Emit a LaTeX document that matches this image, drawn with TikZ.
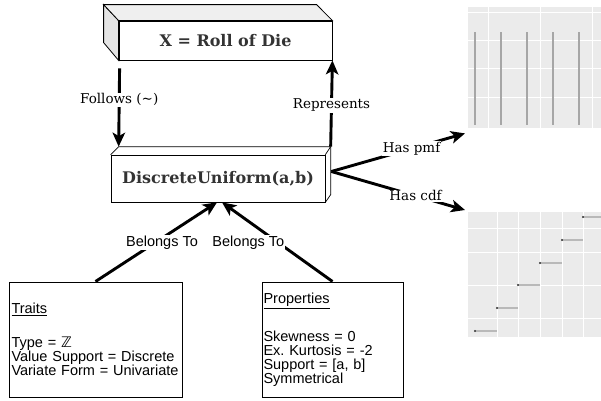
\documentclass[tikz,border=0pt]{standalone}
\usepackage{fontspec}
\usetikzlibrary{arrows.meta}
\setmainfont{DejaVu Serif}
\setsansfont{Liberation Sans}
\newfontfamily\dsfont{DejaVu Sans}
\definecolor{boxtext}{HTML}{333333}
\definecolor{facegray}{HTML}{E4E4E4}
\definecolor{plotbg}{HTML}{EBEBEB}

\begin{document}
\begin{tikzpicture}[x=1pt, y=-1pt,
        arr/.style={line width=2.9pt, -{Stealth[length=14pt, width=12.5pt, inset=3.5pt]}},
        cubetext/.style={font=\fontsize{16}{18}\selectfont\bfseries, text=boxtext},
        edgelbl/.style={fill=white, inner sep=1pt, font=\fontsize{13.5}{15}\selectfont},
        sanslbl/.style={fill=white, inner sep=1pt, font=\fontsize{14.5}{16}\selectfont\sffamily},
        infobox/.style={draw, line width=1pt, minimum height=115pt, align=left, font=\fontsize{14.5}{14}\selectfont\sffamily}]
        \useasboundingbox (0,0) rectangle (601,400);
        \node[draw, line width=0.8pt, fill=white, minimum width=213pt, minimum height=39pt, cubetext] (roll) at (225.5,40.5) {X = Roll of Die};
        \draw[line width=0.8pt, fill=facegray] (roll.north west) -- ++(-15,-16) -- ++(0,38) -- (roll.south west) -- cycle;
        \draw[line width=0.8pt, fill=facegray!60] (roll.north west) -- ++(-15,-16) -- ++(213,0) -- (roll.north east) -- cycle;
        \node[draw, line width=0.7pt, minimum width=214pt, minimum height=47pt, cubetext] (unif) at (218,178.5) {DiscreteUniform(a,b)};
        \draw[line width=0.7pt] (unif.north west) -- ++(8,-8) coordinate (unifTL) -- ++(212,0) coordinate (unifTR) -- (unif.north east);
        \draw[line width=0.7pt] (unifTR) -- ++(0,48) -- (unif.south east);
        \coordinate (unifR) at ([shift={(6,-7)}]unif.east);
        \node[fill=plotbg, minimum width=133pt, minimum height=121pt, inner sep=0pt, anchor=north west] (pmf) at (468,7) {};
        \draw[white, line width=0.4pt] (468,12) -- (601,12);
        \draw[white, line width=0.4pt] (468,40) -- (601,40);
        \draw[white, line width=0.4pt] (468,68) -- (601,68);
        \draw[white, line width=0.4pt] (468,97) -- (601,97);
        \draw[white, line width=0.4pt] (488,7) -- (488,128);
        \draw[white, line width=0.4pt] (540,7) -- (540,128);
        \draw[white, line width=0.4pt] (592,7) -- (592,128);
        \draw[gray!70, line width=1.3pt] (475,32) -- (475,125);
        \draw[gray!70, line width=1.3pt] (501,32) -- (501,125);
        \draw[gray!70, line width=1.3pt] (527,32) -- (527,125);
        \draw[gray!70, line width=1.3pt] (553,32) -- (553,125);
        \draw[gray!70, line width=1.3pt] (579,32) -- (579,125);
        \node[fill=plotbg, minimum width=133pt, minimum height=125pt, inner sep=0pt, anchor=north west] (cdf) at (468,212) {};
        \draw[white, line width=0.4pt] (468,228) -- (601,228);
        \draw[white, line width=0.5pt] (468,252) -- (601,252);
        \draw[white, line width=0.5pt] (468,285) -- (601,285);
        \draw[white, line width=0.4pt] (468,318) -- (601,318);
        \draw[white, line width=0.4pt] (497,212) -- (497,337);
        \draw[white, line width=0.4pt] (518,212) -- (518,337);
        \draw[white, line width=0.5pt] (540,212) -- (540,337);
        \draw[white, line width=0.4pt] (562,212) -- (562,337);
        \draw[white, line width=0.4pt] (583,212) -- (583,337);
        \draw[gray!55, line width=1.3pt] (475,331) -- (497,331);
        \draw[gray!55, line width=1.3pt] (497,308) -- (518,308);
        \draw[gray!55, line width=1.3pt] (518,285) -- (540,285);
        \draw[gray!55, line width=1.3pt] (540,263) -- (562,263);
        \draw[gray!55, line width=1.3pt] (562,240) -- (583,240);
        \draw[gray!55, line width=1.3pt] (583,217) -- (601,217);
        \fill[black!80] (475,331) circle (1.2pt);
        \fill[black!80] (497,308) circle (1.2pt);
        \fill[black!80] (518,285) circle (1.2pt);
        \fill[black!80] (540,263) circle (1.2pt);
        \fill[black!80] (562,240) circle (1.2pt);
        \fill[black!80] (583,217) circle (1.2pt);
        \node[infobox, text width=168pt, inner xsep=2.5pt] (traits) at (95.5,339.5) {\underline{Traits}\\[20pt]Type = {\dsfont ℤ}\\Value Support = Discrete\\Variate Form = Univariate};
        \node[infobox, text width=138pt, inner xsep=1.5pt] (props) at (332.5,339.5) {\underline{Properties}\\[21pt]Skewness = 0\\Ex.\ Kurtosis = -2\\Support = [a, b]\\Symmetrical};
        \draw[arr] ([shift={(1,8)}]roll.south west) -- (unifTL) node[edgelbl, pos=0.4] {Follows (\textasciitilde)};
        \draw[arr] (unifTR) -- (roll.south east) node[edgelbl, pos=0.48] {Represents};
        \draw[arr] (unifR) -- ([shift={(-3,5)}]pmf.south west) node[edgelbl, pos=0.6] {Has pmf};
        \draw[arr] (unifR) -- ([shift={(-3,-2)}]cdf.north west) node[edgelbl, pos=0.63] {Has cdf};
        \draw[arr] (traits.north) -- ([xshift=-1pt]unif.south) node[sanslbl, pos=0.49, xshift=7pt] {Belongs To};
        \draw[arr] (props.north) -- ([xshift=4pt]unif.south) node[sanslbl, pos=0.49, xshift=-30pt] {Belongs To};
\end{tikzpicture}
\end{document}
